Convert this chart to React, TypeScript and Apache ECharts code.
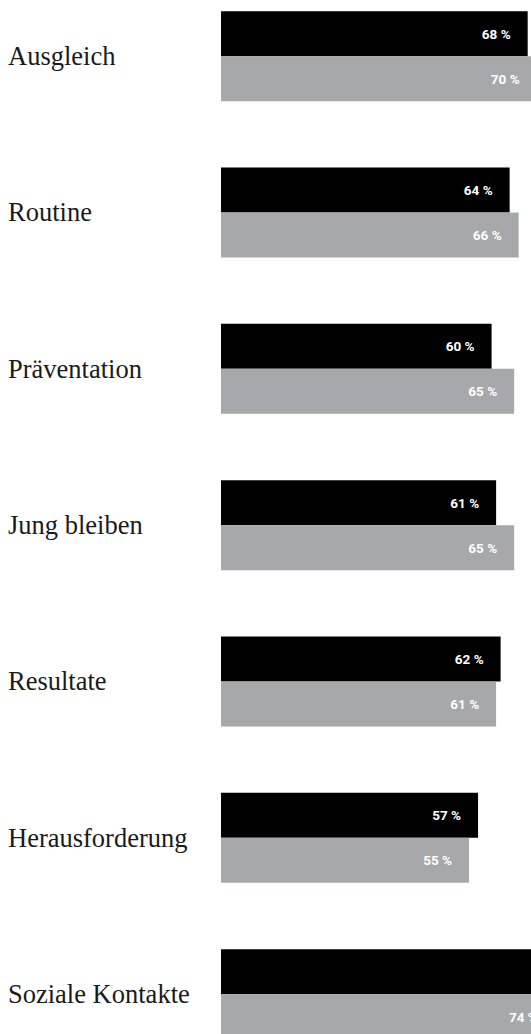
import React, { useEffect, useRef } from "react";
import * as echarts from "echarts";

const categories = [
  "Ausgleich",
  "Routine",
  "Präventation",
  "Jung bleiben",
  "Resultate",
  "Herausforderung",
  "Soziale Kontakte",
];
const seriesBlack = [68, 64, 60, 61, 62, 57, 80];
const seriesGray = [70, 66, 65, 65, 61, 55, 74];

export default function App() {
  const ref = useRef<HTMLDivElement>(null);
  useEffect(() => {
    const chart = echarts.init(ref.current!, null, { renderer: "svg" });
    const label = {
      show: true,
      position: "insideRight",
      distance: 17,
      color: "#ffffff",
      fontFamily: "Roboto, 'DejaVu Sans Condensed', sans-serif",
      fontWeight: "bold",
      fontSize: 13.5,
      formatter: (p: any) => `${p.value} %`,
    };
    chart.setOption({
      animation: false,
      grid: { left: 221, top: 8, width: 451, height: 1094.3 },
      xAxis: {
        type: "value",
        min: 0,
        max: 100,
        show: false,
      },
      yAxis: {
        type: "category",
        data: categories,
        inverse: true,
        axisLine: { show: false },
        axisTick: { show: false },
        splitLine: { show: false },
        axisLabel: {
          align: "left",
          margin: 213,
          fontFamily: "'Liberation Serif', 'DejaVu Serif', serif",
          fontSize: 26.5,
          color: "#1a1a1a",
        },
      },
      series: [
        {
          type: "bar",
          data: seriesBlack,
          barWidth: 45,
          barGap: "0%",
          itemStyle: { color: "#000000" },
          label,
        },
        {
          type: "bar",
          data: seriesGray,
          barWidth: 45,
          barGap: "0%",
          itemStyle: { color: "#a7a8ab" },
          label,
        },
      ],
    });
    return () => chart.dispose();
  }, []);
  return (
    <div
      style={{
        position: "fixed",
        left: 0,
        top: 0,
        width: 531,
        height: 1034,
        overflow: "hidden",
        background: "#fff",
      }}
    >
      <div
        ref={ref}
        style={{ position: "absolute", left: 0, top: -30, width: 700, height: 1120 }}
      />
    </div>
  );
}
